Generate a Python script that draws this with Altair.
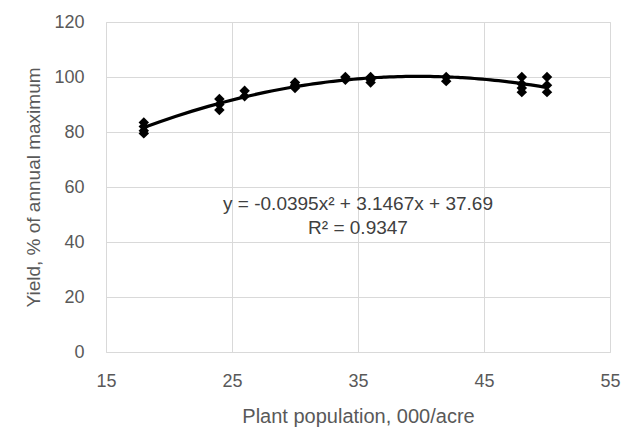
import altair as alt
import pandas as pd

population = [18, 18, 18, 18, 24, 24, 24, 26, 26, 30, 30, 30, 34, 34, 36, 36, 36,
              42, 42, 48, 48, 48, 48, 50, 50, 50]
yield_pct = [83.5, 82, 80.5, 79.5, 92, 90, 88, 95, 93, 98, 97, 96, 100, 99, 100, 99, 98,
             100, 98.5, 100, 97.5, 96, 94.5, 100, 97, 94.5]

label_lines = ["y = -0.0395x\u00b2 + 3.1467x + 37.69", "R\u00b2 = 0.9347"]
label_x = [35, 35]
label_y = [54, 45]

df = pd.DataFrame({"x": population, "y": yield_pct})
lab = pd.DataFrame({"x": label_x, "y": label_y, "t": label_lines})

FONT = "Liberation Sans"
GRAY = "#595959"

xs = alt.Scale(domain=[15, 55], nice=False)
ys = alt.Scale(domain=[0, 120], nice=False)

xaxis = alt.Axis(values=[15, 25, 35, 45, 55], title="Plant population, 000/acre",
                 grid=True, gridColor="#d9d9d9", ticks=False, domain=False, labelFlush=False,
                 labelPadding=20, titlePadding=16, labelFontSize=18, titleFontSize=20,
                 labelColor=GRAY, titleColor=GRAY, labelFont=FONT, titleFont=FONT,
                 titleFontWeight="normal")
yaxis = alt.Axis(values=[0, 20, 40, 60, 80, 100, 120], title="Yield, % of annual maximum",
                 grid=True, gridColor="#d9d9d9", ticks=False, domain=False, labelFlush=False,
                 labelPadding=22, titlePadding=10, labelFontSize=18, titleFontSize=19,
                 labelColor=GRAY, titleColor=GRAY, labelFont=FONT, titleFont=FONT,
                 titleFontWeight="normal")

base = alt.Chart(df)

pts = base.mark_point(shape="diamond", filled=True, color="black", size=110, opacity=1).encode(
    x=alt.X("x:Q", scale=xs, axis=xaxis),
    y=alt.Y("y:Q", scale=ys, axis=yaxis),
)

trend = base.transform_regression("x", "y", method="poly", order=2, extent=[18, 50]).mark_line(
    color="black", strokeWidth=3.2
).encode(x=alt.X("x:Q", scale=xs), y=alt.Y("y:Q", scale=ys))

txt = alt.Chart(lab).mark_text(font=FONT, fontSize=19, color="#404040").encode(
    x=alt.X("x:Q", scale=xs), y=alt.Y("y:Q", scale=ys), text="t:N"
)

chart = (pts + trend + txt).properties(
    width=504, height=330,
    autosize=alt.AutoSizeParams(type="none"),
    padding={"left": 98, "top": 14, "right": 22, "bottom": 86},
).configure_view(stroke=None).configure(background="white")

chart.save("out.html", embed_options={"renderer": "svg", "actions": False})
